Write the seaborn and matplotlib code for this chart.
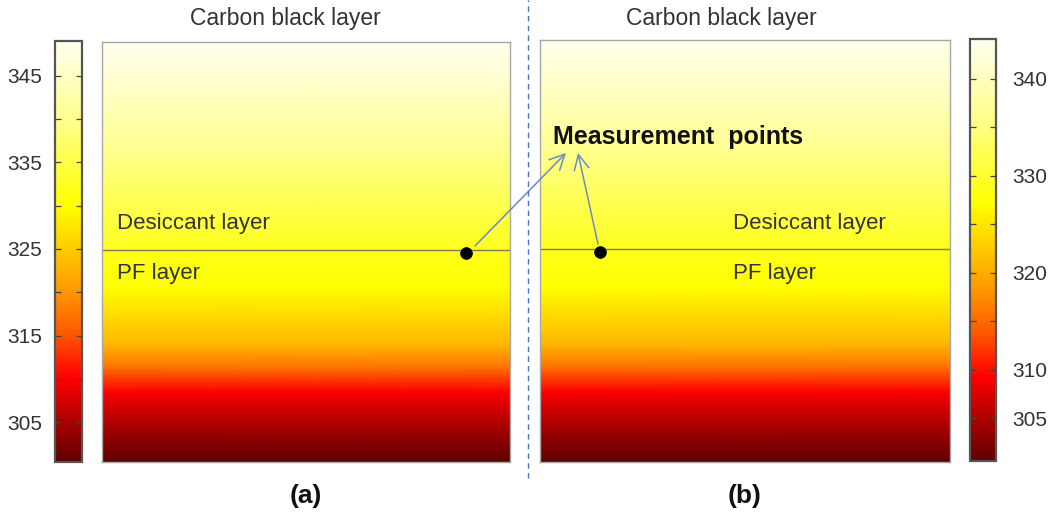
import numpy as np
import matplotlib
matplotlib.use("Agg")
import matplotlib.pyplot as plt
from matplotlib.colors import LinearSegmentedColormap
from matplotlib.patches import FancyArrowPatch
from matplotlib.lines import Line2D
import seaborn as sns

sns.set_theme(style="white")
plt.rcParams['font.family'] = ['Liberation Sans', 'DejaVu Sans']

# ---- data ----
heights = [0.0, 0.088, 0.167, 0.224, 0.279, 0.35, 0.414, 0.505, 0.752, 1.0]   # fraction of panel height (bottom = 0)
temp_a = [300.5, 305, 310, 317, 323, 326.5, 330, 332, 340.5, 349]
temp_b = [300.7, 304.7, 309.2, 315.5, 320.7, 324.0, 327.1, 328.9, 336.5, 344.1]
range_a = (300.4, 349.0)
range_b = (300.6, 344.1)
ticks_a = [305, 310, 315, 320, 325, 330, 335, 340, 345]
labels_a = ["305", "", "315", "", "325", "", "335", "", "345"]
ticks_b = [305, 310, 315, 320, 325, 330, 335, 340]
labels_b = ["305", "310", "", "320", "", "330", "", "340"]
layer_interface = 0.505
point_a = (0.892, 0.498)
point_b = (0.146, 0.498)
panel_labels = ["(a)", "(b)"]

cmap = LinearSegmentedColormap.from_list("thermal", [
    (0.0, "#5e0000"), (0.1, "#b00000"), (0.2, "#ff0000"), (0.3, "#ff5500"),
    (0.4, "#ff9400"), (0.5, "#ffc800"), (0.61, "#ffff00"), (0.8, "#ffff85"),
    (1.0, "#fffff0")])

W, H = 1053, 520
fig = plt.figure(figsize=(W / 100, H / 100), dpi=100)

def frac(x0, y0, x1, y1):
    return [x0 / W, (H - y1) / H, (x1 - x0) / W, (y1 - y0) / H]

ax_a = fig.add_axes(frac(102, 42, 510, 462))
ax_b = fig.add_axes(frac(540, 40, 950, 462))
cax_a = fig.add_axes(frac(55, 41, 82, 462))
cax_b = fig.add_axes(frac(970, 39, 996, 461))

def draw_panel(ax, temps, rng, point):
    X, Y = np.meshgrid([0.0, 1.0], heights)
    C = np.column_stack([temps, temps])
    mesh = ax.pcolormesh(X, Y, C, shading="gouraud", cmap=cmap, vmin=rng[0], vmax=rng[1])
    ax.axhline(layer_interface, color="#7d7d55", lw=1.0)
    sns.scatterplot(x=[point[0]], y=[point[1]], ax=ax, color="black", s=70,
                    edgecolor="black", zorder=5, legend=False)
    ax.set_xlim(0, 1)
    ax.set_ylim(0, 1)
    ax.set_xticks([])
    ax.set_yticks([])
    ax.set_xlabel("")
    ax.set_ylabel("")
    for s in ax.spines.values():
        s.set_color("#a8a8a8")
        s.set_linewidth(1.0)
        s.set_visible(True)
    return mesh

mesh_a = draw_panel(ax_a, temp_a, range_a, point_a)
mesh_b = draw_panel(ax_b, temp_b, range_b, point_b)

def draw_cbar(mesh, cax, ticks, labels, side):
    cb = fig.colorbar(mesh, cax=cax)
    cb.set_ticks(ticks)
    cb.set_ticklabels(labels)
    cb.outline.set_edgecolor("#555555")
    cb.outline.set_linewidth(1.6)
    cax.minorticks_off()
    cax.set_axisbelow(False)
    cax.tick_params(axis="y", which="major", left=True, right=True, direction="in",
                    length=4, width=0.9, colors="#444444",
                    labelcolor="#333333", labelsize=15,
                    labelleft=(side == "left"), labelright=(side == "right"),
                    pad=9 if side == "left" else 12)
    return cb

draw_cbar(mesh_a, cax_a, ticks_a, labels_a, "left")
draw_cbar(mesh_b, cax_b, ticks_b, labels_b, "right")

# Titles and layer texts
txt_col = "#333333"
fig.text(285 / W, 1 - 19 / H, "Carbon black layer", ha="center", va="center", fontsize=16.5, color=txt_col)
fig.text(721 / W, 1 - 19 / H, "Carbon black layer", ha="center", va="center", fontsize=16.5, color=txt_col)
for x0 in (117, 733):
    fig.text(x0 / W, 1 - 223 / H, "Desiccant layer", ha="left", va="center", fontsize=16, color=txt_col)
    fig.text(x0 / W, 1 - 273 / H, "PF layer", ha="left", va="center", fontsize=16, color=txt_col)

fig.text(553 / W, 1 - 137 / H, "Measurement  points", ha="left", va="center",
         fontsize=18, fontweight="bold", color="#111111")

# Arrows
arrow_kw = dict(arrowstyle="->,head_length=0.6,head_width=0.3", color="#6a8bc9", lw=1.1,
                mutation_scale=18, shrinkA=0, shrinkB=0)
fig.add_artist(FancyArrowPatch((475, H - 246), (566, H - 153), transform=None, **arrow_kw))
fig.add_artist(FancyArrowPatch((598, H - 244), (578, H - 153), transform=None, **arrow_kw))

# Dashed separator
fig.add_artist(Line2D([528 / W, 528 / W], [1 - 478 / H, 1.0],
                      transform=fig.transFigure, color="#4a74c4",
                      lw=1.0, ls=(0, (4, 3))))

fig.text(306 / W, 1 - 496 / H, panel_labels[0], ha="center", va="center", fontsize=19,
         fontweight="bold", color="#111111")
fig.text(745 / W, 1 - 496 / H, panel_labels[1], ha="center", va="center", fontsize=19,
         fontweight="bold", color="#111111")

fig.savefig("out.png", dpi=100)
